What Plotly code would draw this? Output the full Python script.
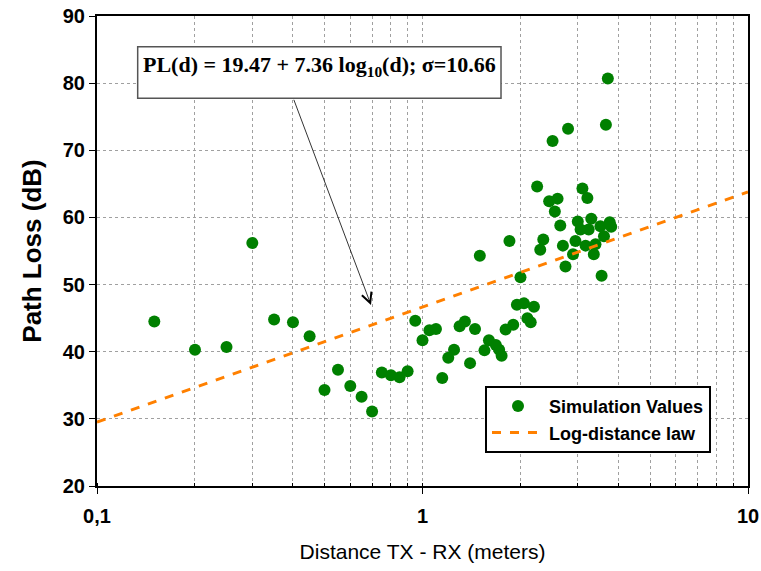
import plotly.graph_objects as go

# Simulation values (distance in meters, path loss in dB)
dist = [0.15, 0.2, 0.25, 0.3, 0.35, 0.4, 0.45, 0.5, 0.55, 0.6, 0.65, 0.7, 0.75, 0.8, 0.85, 0.9, 0.95,
        1.0, 1.05, 1.1, 1.15, 1.2, 1.25, 1.3, 1.35, 1.4, 1.45, 1.5, 1.55, 1.6, 1.68, 1.72, 1.75,
        1.8, 1.85, 1.9, 1.95, 2.0, 2.05, 2.1, 2.15, 2.2, 2.25, 2.3, 2.35, 2.45, 2.51, 2.55, 2.6,
        2.65, 2.7, 2.75, 2.8, 2.9, 2.95, 3.0, 3.06, 3.1, 3.17, 3.21, 3.24, 3.3, 3.36, 3.4, 3.52,
        3.55, 3.61, 3.66, 3.71, 3.76, 3.8]
ploss = [44.5, 40.3, 40.7, 56.2, 44.8, 44.4, 42.3, 34.3, 37.3, 34.9, 33.3, 31.1, 36.9, 36.5, 36.2, 37.1, 44.6,
         41.7, 43.2, 43.4, 36.1, 39.1, 40.3, 43.8, 44.5, 38.3, 43.4, 54.3, 40.2, 41.7, 41.0, 40.3, 39.4,
         43.3, 56.5, 44.0, 47.0, 51.1, 47.2, 45.0, 44.4, 46.7, 64.6, 55.2, 56.7, 62.4, 71.4, 60.9, 62.8,
         58.8, 55.8, 52.7, 73.2, 54.5, 56.5, 59.4, 58.2, 64.3, 55.8, 62.9, 58.2, 59.8, 54.5, 56.0, 58.7,
         51.3, 57.2, 73.8, 80.7, 59.3, 58.6]

# Log-distance law line endpoints
law_x = [0.1, 10]
law_y = [29.5, 63.8]

x_tickvals = [0.1, 1, 10]
x_ticktext = ["0,1", "1", "10"]
y_tickvals = [20, 30, 40, 50, 60, 70, 80, 90]

fig = go.Figure()
fig.add_trace(go.Scatter(
    x=dist, y=ploss, mode="markers", name="Simulation Values",
    marker=dict(color="#008000", size=12, line=dict(width=0)),
))
fig.add_trace(go.Scatter(
    x=law_x, y=law_y, mode="lines", name="Log-distance law",
    line=dict(color="#FF8000", width=3, dash="dash"),
))

tick_font = dict(family="Liberation Sans, Arial", size=20, color="black", weight="bold")

fig.update_layout(
    width=761, height=571,
    margin=dict(l=97, r=13, t=16, b=85, autoexpand=False),
    paper_bgcolor="white", plot_bgcolor="white",
    showlegend=True,
    legend=dict(
        x=0.596, y=0.213, xanchor="left", yanchor="top",
        bgcolor="white", bordercolor="black", borderwidth=2,
        font=dict(family="Liberation Sans, Arial", size=18, color="black", weight="bold"),
        itemwidth=52, tracegroupgap=2,
    ),
    xaxis=dict(
        type="log", range=[-1, 1],
        tickvals=x_tickvals, ticktext=x_ticktext,
        showline=True, linecolor="black", linewidth=2, mirror=True,
        ticks="outside", ticklen=6, tickwidth=1, tickcolor="black",
        tickfont=tick_font, ticklabelstandoff=5,
        showgrid=True, gridcolor="#a0a0a0", griddash="dot", gridwidth=1,
        minor=dict(dtick="D1", showgrid=True, gridcolor="#a0a0a0", griddash="dot",
                   gridwidth=1, ticks="inside", ticklen=3, tickcolor="black"),
        title=dict(text="Distance TX - RX (meters)",
                   font=dict(family="Liberation Sans, Arial", size=21, color="black"),
                   standoff=18),
        zeroline=False, automargin=False,
    ),
    yaxis=dict(
        range=[20, 90], tickvals=y_tickvals,
        showline=True, linecolor="black", linewidth=2, mirror=True,
        ticks="outside", ticklen=6, tickwidth=1, tickcolor="black",
        tickfont=tick_font,
        showgrid=True, gridcolor="#a0a0a0", griddash="dot", gridwidth=1,
        title=dict(text="Path Loss (dB)",
                   font=dict(family="Liberation Sans, Arial", size=26, color="black", weight="bold"),
                   standoff=14),
        zeroline=False, automargin=False,
    ),
)

# Equation box
fig.add_shape(type="rect", xref="paper", yref="paper",
              x0=0.0625, x1=0.6206, y0=0.8249, y1=0.9347,
              line=dict(color="#555555", width=1.5), fillcolor="white", layer="above")
fig.add_annotation(
    xref="paper", yref="paper", x=0.0672, y=0.894, xanchor="left", yanchor="middle",
    text="PL(d) = 19.47 + 7.36 log<sub>10</sub>(d); σ=10.66",
    showarrow=False,
    font=dict(family="Liberation Serif, Times New Roman", size=22, color="black", weight="bold"),
)
# Arrow
fig.add_annotation(
    xref="paper", yref="paper", x=0.4209, y=0.3851, text="",
    showarrow=True, ax=-77.7, ay=-206.7, axref="pixel", ayref="pixel",
    arrowhead=5, arrowsize=2.5, arrowwidth=0.8, arrowcolor="black",
)

fig.write_html("out.html")
